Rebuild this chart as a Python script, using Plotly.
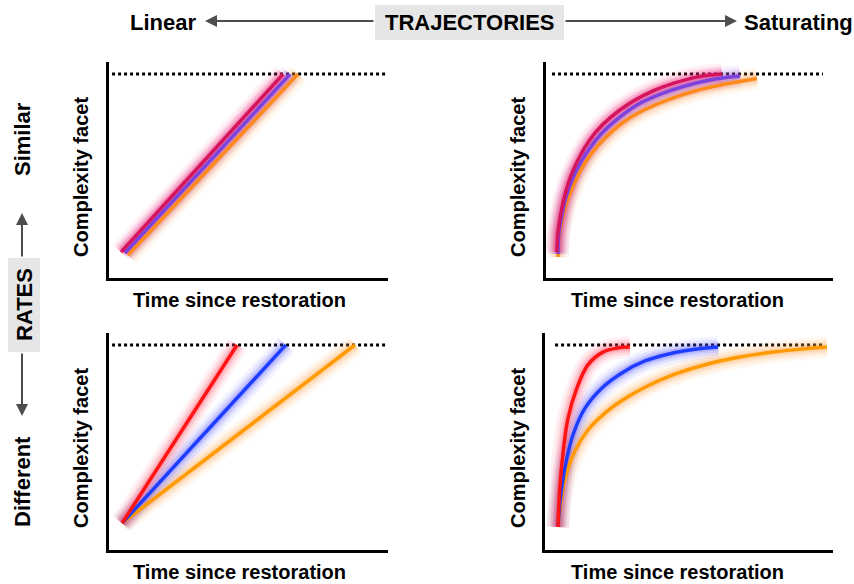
import plotly.graph_objects as go

# ---------------- data (time 0-100, complexity 0-100) ----------------
# Linear / similar rates (top-left)
ls_red_x = [4.3, 62.4]
ls_red_y = [12.0, 94.4]
ls_blue_x = [5.7, 64.9]
ls_blue_y = [11.6, 94.4]
ls_orange_x = [6.8, 67.7]
ls_orange_y = [10.6, 94.4]

# Saturating / similar rates (top-right)
ss_red_x = [3.8, 4.2, 5.2, 6.6, 8.4, 10.8, 13.6, 17.4, 22.3, 29.3, 37.3, 44.9, 53.0, 61.3]
ss_red_y = [12.0, 21.3, 30.1, 38.4, 46.3, 53.7, 60.6, 67.6, 74.1, 81.0, 86.6, 90.3, 93.1, 94.4]
ss_blue_x = [4.2, 4.5, 5.6, 7.0, 9.1, 11.8, 15.0, 19.2, 24.4, 31.7, 40.1, 48.4, 57.1, 67.6]
ss_blue_y = [11.1, 20.4, 29.2, 37.5, 45.4, 52.8, 59.7, 66.7, 73.1, 80.1, 85.2, 88.9, 91.7, 93.5]
ss_orange_x = [4.2, 4.5, 5.6, 7.3, 9.8, 12.5, 16.0, 20.6, 26.1, 33.4, 42.2, 51.9, 62.4, 73.5]
ss_orange_y = [9.7, 18.5, 26.9, 35.2, 43.5, 50.9, 57.9, 64.8, 71.3, 77.3, 82.4, 86.6, 89.8, 92.4]

# Linear / different rates (bottom-left)
ld_red_x = [4.7, 45.9]
ld_red_y = [12.4, 94.5]
ld_blue_x = [4.7, 63.4]
ld_blue_y = [12.4, 94.5]
ld_orange_x = [4.7, 88.2]
ld_orange_y = [12.4, 94.5]

# Saturating / different rates (bottom-right)
sd_red_x = [4.5, 5.2, 6.3, 8.0, 11.1, 14.9, 20.1, 25.3, 29.5]
sd_red_y = [10.6, 30.0, 45.2, 60.8, 74.7, 85.3, 91.2, 93.1, 93.5]
sd_blue_x = [4.5, 5.2, 6.9, 9.7, 13.9, 19.8, 26.7, 34.7, 44.4, 52.8, 60.1]
sd_blue_y = [10.6, 22.1, 37.8, 53.0, 65.4, 74.7, 81.6, 87.1, 90.8, 92.6, 93.5]
sd_orange_x = [4.5, 5.2, 6.9, 10.4, 14.9, 20.8, 27.8, 34.7, 44.4, 56.3, 67.7, 79.2, 91.0, 97.9]
sd_orange_y = [10.6, 19.4, 32.3, 45.6, 55.3, 63.1, 69.8, 75.0, 80.7, 85.6, 88.9, 91.2, 92.8, 93.5]

# plateau (dotted reference) per panel: [x start, x end], level
plateau_x_tl = [1.1, 100]
plateau_x_tr = [2.1, 96.5]
plateau_x_bl = [1.1, 100]
plateau_x_br = [3.5, 96.5]
plateau_levels = [94.4, 94.4, 94.5, 94.5]

# texts
x_title = "Time since restoration"
y_title = "Complexity facet"
col_labels = ["Linear", "TRAJECTORIES", "Saturating"]
row_labels = ["Similar", "RATES", "Different"]

# ---------------- styles ----------------
W, H = 854, 584
FONT = "Liberation Sans, Arial, sans-serif"

top_cols = {"red": "#d4145c", "blue": "#7b42dc", "orange": "#ff8a1c"}
top_glow = {"red": "255,40,110", "blue": "150,70,230", "orange": "255,150,60"}
bot_cols = {"red": "#ff1414", "blue": "#1f3dff", "orange": "#ff9a00"}
bot_glow = {"red": "255,60,90", "blue": "80,80,255", "orange": "255,160,60"}


def px_x(p):
    return p / W


def px_y(p):
    return 1 - p / H


fig = go.Figure()

panels = [
    ("", (109, 388), (62, 278)),
    ("2", (546, 833), (62, 278)),
    ("3", (109, 388), (333, 550)),
    ("4", (545, 833), (333, 550)),
]

layout_axes = {}
for suf, (x0, x1), (y0, y1) in panels:
    ax = dict(range=[0, 100], showline=True,
              linewidth=3, linecolor="black", showgrid=False, zeroline=False,
              showticklabels=False, ticks="", fixedrange=True)
    xa = dict(ax, domain=[px_x(x0), px_x(x1)], anchor="y" + suf)
    ya = dict(ax, domain=[px_y(y1), px_y(y0)], anchor="x" + suf)
    layout_axes["xaxis" + suf] = xa
    layout_axes["yaxis" + suf] = ya


def add_glow(xs, ys, glow, suf, spline):
    shape = "spline" if spline else "linear"
    for w, a in [(22, 0.07), (16, 0.10), (11, 0.15), (7, 0.2)]:
        fig.add_trace(go.Scatter(x=xs, y=ys, mode="lines",
                                 line=dict(color=f"rgba({glow},{a})", width=w, shape=shape),
                                 xaxis="x" + suf, yaxis="y" + suf, hoverinfo="skip",
                                 showlegend=False))


def add_main(xs, ys, color, suf, spline):
    shape = "spline" if spline else "linear"
    fig.add_trace(go.Scatter(x=xs, y=ys, mode="lines",
                             line=dict(color=color, width=3.5, shape=shape),
                             xaxis="x" + suf, yaxis="y" + suf, hoverinfo="skip",
                             showlegend=False))


panel_series = [
    ("", False, top_cols, top_glow, [(ls_orange_x, ls_orange_y, "orange"), (ls_blue_x, ls_blue_y, "blue"), (ls_red_x, ls_red_y, "red")]),
    ("2", True, top_cols, top_glow, [(ss_orange_x, ss_orange_y, "orange"), (ss_blue_x, ss_blue_y, "blue"), (ss_red_x, ss_red_y, "red")]),
    ("3", False, bot_cols, bot_glow, [(ld_orange_x, ld_orange_y, "orange"), (ld_blue_x, ld_blue_y, "blue"), (ld_red_x, ld_red_y, "red")]),
    ("4", True, bot_cols, bot_glow, [(sd_orange_x, sd_orange_y, "orange"), (sd_blue_x, sd_blue_y, "blue"), (sd_red_x, sd_red_y, "red")]),
]

plateau_xs = [plateau_x_tl, plateau_x_tr, plateau_x_bl, plateau_x_br]
for (suf, spline, cols, glows, series), pxs, lvl in zip(panel_series, plateau_xs, plateau_levels):
    fig.add_trace(go.Scatter(x=pxs, y=[lvl, lvl], mode="lines",
                             line=dict(color="black", width=3, dash="3px,3px"),
                             xaxis="x" + suf, yaxis="y" + suf, hoverinfo="skip",
                             showlegend=False))
    for xs, ys, key in series:
        add_glow(xs, ys, glows[key], suf, spline)
    for xs, ys, key in series:
        add_main(xs, ys, cols[key], suf, spline)

annotations = []
shapes = []


def label(x, y, text, size, angle=0):
    return dict(x=px_x(x), y=px_y(y), xref="paper", yref="paper",
                text=f"<b>{text}</b>", showarrow=False, textangle=angle,
                font=dict(family=FONT, size=size, color="black"),
                xanchor="center", yanchor="middle")


# axis titles
for cx, cy in [(240, 300), (677, 300), (240, 572), (677, 572)]:
    annotations.append(label(cx, cy, x_title, 20))
for cx, cy in [(81, 177), (518, 177), (81, 448), (518, 448)]:
    annotations.append(label(cx, cy, y_title, 20, -90))

# header: Linear <---- TRAJECTORIES ----> Saturating
shapes.append(dict(type="rect", xref="paper", yref="paper", x0=px_x(375), x1=px_x(564),
                   y0=px_y(40), y1=px_y(5), fillcolor="#e6e6e6", line=dict(width=0), layer="below"))
annotations.append(label(163, 22, col_labels[0], 22))
annotations.append(label(470, 22, col_labels[1], 22))
annotations.append(label(798, 22, col_labels[2], 22))

ARROW = dict(showarrow=True, arrowhead=2, arrowsize=1.2, arrowwidth=2,
             arrowcolor="#4d4d4d", text="", xref="paper", yref="paper")
annotations.append(dict(ARROW, x=px_x(205), y=px_y(21), ax=375 - 205, ay=0))
annotations.append(dict(ARROW, x=px_x(737), y=px_y(21), ax=564 - 737, ay=0))

# left side: Similar ^ RATES v Different
shapes.append(dict(type="rect", xref="paper", yref="paper", x0=px_x(8), x1=px_x(40),
                   y0=px_y(352), y1=px_y(258), fillcolor="#e6e6e6", line=dict(width=0), layer="below"))
annotations.append(label(22, 139, row_labels[0], 22, -90))
annotations.append(label(24, 305, row_labels[1], 22, -90))
annotations.append(label(22, 482, row_labels[2], 22, -90))
annotations.append(dict(ARROW, x=px_x(22), y=px_y(213), ax=0, ay=258 - 213))
annotations.append(dict(ARROW, x=px_x(22), y=px_y(416), ax=0, ay=352 - 416))

fig.update_layout(width=W, height=H, margin=dict(l=0, r=0, t=0, b=0),
                  paper_bgcolor="white", plot_bgcolor="white",
                  showlegend=False, annotations=annotations, shapes=shapes,
                  font=dict(family=FONT), **layout_axes)

fig.write_html("out.html", config={"displayModeBar": False, "staticPlot": True},
               post_script="document.body.style.margin='0px';document.body.style.overflow='hidden';")
